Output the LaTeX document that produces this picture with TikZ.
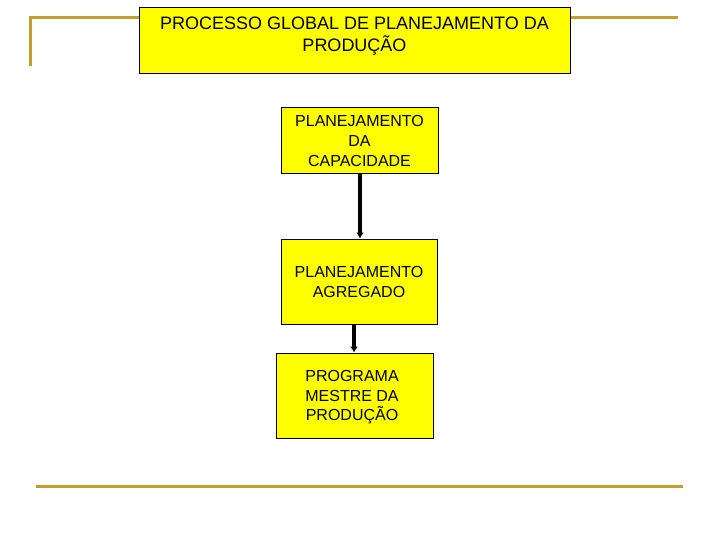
\documentclass[tikz,border=0pt]{standalone}
\usepackage{fontspec}
\setmainfont{Liberation Sans}
\usetikzlibrary{arrows.meta}
\definecolor{gold}{RGB}{192,160,40}
\definecolor{boxyellow}{RGB}{255,255,0}
\begin{document}
\begin{tikzpicture}[x=1pt,y=-1pt,
  goldline/.style={draw=gold,line width=3pt},
  box/.style={draw=black,fill=boxyellow,line width=1pt,inner sep=0pt,align=center,font=\fontsize{16}{20}\selectfont},
  boxtext/.style={inner sep=0pt,align=center,font=\fontsize{16}{19.5}\selectfont},
  flow/.style={draw=black,line width=3.5pt,-{Latex[width=8pt,length=6pt]}}]
\useasboundingbox (0,0) rectangle (720,540);
% gold lines
\coordinate (tl) at (30,66);
\coordinate (tc) at (30,18);
\coordinate (tm) at (139,18);
\coordinate (tr1) at (570,18);
\coordinate (tr2) at (678,18);
\coordinate (bl) at (36,486);
\coordinate (br) at (683,486);
\draw[goldline] (tl) -- (tc) -- (tm);
\draw[goldline] (tr1) -- (tr2);
\draw[goldline] (bl) -- (br);
% title
\node[box,minimum width=431pt,minimum height=66pt] (title) at (354.5,41) {};
\node[anchor=north,inner sep=0pt,align=center,font=\fontsize{18}{22}\selectfont] (titletext) at (354.5,17)
  {PROCESSO GLOBAL DE PLANEJAMENTO DA\\PRODUÇÃO};
% boxes
\node[box,minimum width=157pt,minimum height=66pt] (cap) at (359.5,141) {PLANEJAMENTO\\DA\\CAPACIDADE};
\node[box,minimum width=156pt,minimum height=85pt] (agr) at (359,281.5) {PLANEJAMENTO\\AGREGADO};
\node[box,minimum width=157pt,minimum height=85pt] (mps) at (354.5,395.5) {};
\node[boxtext] (mpstext) at (352,397.5) {PROGRAMA\\MESTRE DA\\PRODUÇÃO};
% arrows
\draw[flow] (cap.south -| 360,0) -- (agr.north -| 360,0);
\draw[flow] (agr.south -| 354,0) -- (mps.north -| 354,0);
\end{tikzpicture}
\end{document}
